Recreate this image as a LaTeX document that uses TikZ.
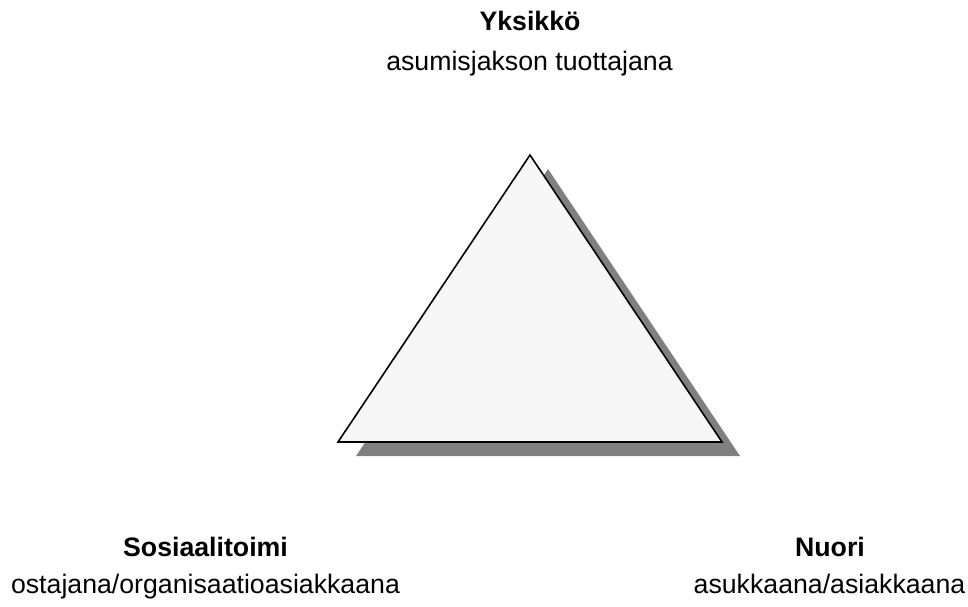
\documentclass[tikz,border=0pt]{standalone}
\usepackage{fontspec}
\setmainfont{Liberation Sans}
\begin{document}
\begin{tikzpicture}[x=1pt,y=-1pt,
  lbl/.style={anchor=base,inner sep=0pt,font=\fontsize{26.7}{30}\selectfont},
  lblb/.style={lbl,font=\fontsize{26.7}{30}\selectfont\bfseries}]
\useasboundingbox (0,0) rectangle (968,606);
\coordinate (A) at (530,155);
\coordinate (B) at (338,442);
\coordinate (C) at (722,442);
\fill[black!50] ([shift={(18,14)}]A) -- ([shift={(18,14)}]B) -- ([shift={(18,14)}]C) -- cycle;
\draw[line width=1.6pt,fill=black!3,line join=miter] (A) -- (B) -- (C) -- cycle;
\node[lblb] (y1) at (530,30) {Yksikkö};
\node[lbl] (y2) at (529.5,70) {asumisjakson tuottajana};
\node[lblb] (s1) at (205.5,556) {Sosiaalitoimi};
\node[lbl] (s2) at (205.5,593) {ostajana/organisaatioasiakkaana};
\node[lblb] (n1) at (830,556) {Nuori};
\node[lbl] (n2) at (829.5,593) {asukkaana/asiakkaana};
\end{tikzpicture}
\end{document}
